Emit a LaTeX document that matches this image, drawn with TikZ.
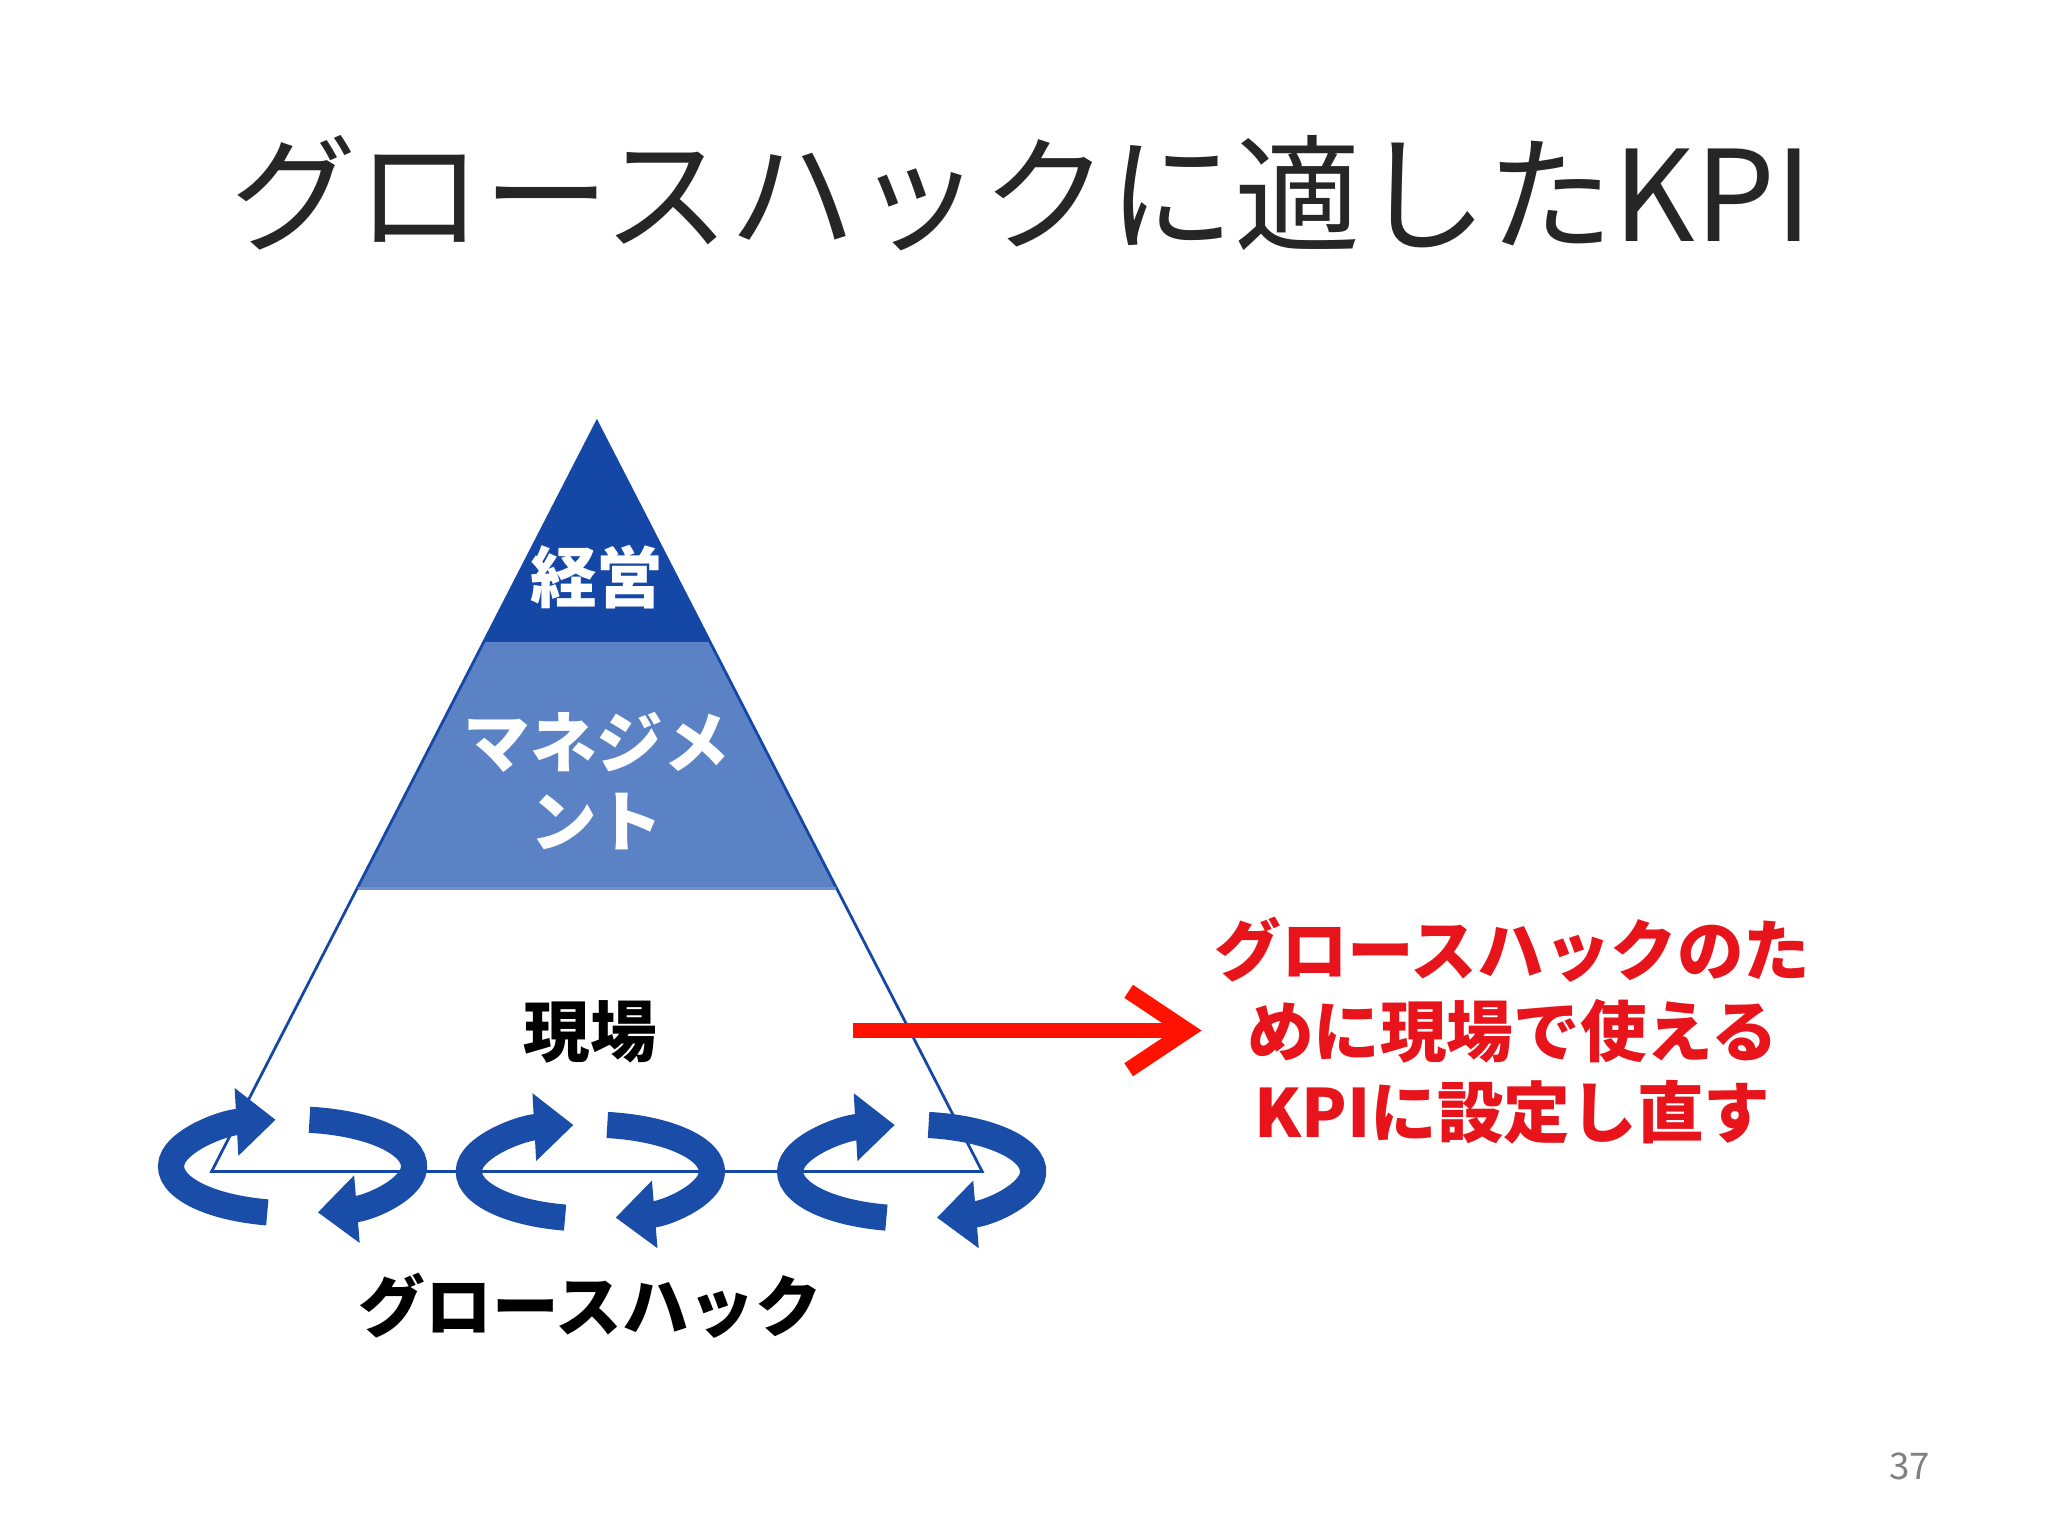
\documentclass[tikz,border=0pt]{standalone}
\usepackage{fontspec}
\setmainfont{Noto Sans CJK JP}
\usetikzlibrary{arrows.meta}
\definecolor{dk}{HTML}{1447A6}
\definecolor{md}{HTML}{5B82C5}
\definecolor{rd}{HTML}{E8141B}
\definecolor{ring}{HTML}{1A4DA8}
\tikzset{
 ringseg/.style={draw=ring,line width=0.2cm,-{Triangle[width=0.5cm,length=0.3cm]}},
 wlab/.style={text=white,font=\fontsize{14.5}{17}\selectfont\bfseries,align=center},
 blab/.style={text=black,font=\fontsize{14.5}{17}\selectfont\bfseries},
}
\begin{document}
\begin{tikzpicture}[x=0.01cm,y=-0.01cm]
\useasboundingbox[fill=white] (0,0) rectangle (1568,1176);
\node[text=black!85] (title) at (782,148) {\fontsize{27.5}{30}\selectfont グロースハックに適したKPI};
% pyramid
\fill[dk] (457,323) -- (544,492) -- (370,492) -- cycle;
\fill[md] (370,492) -- (544,492) -- (640,680) -- (274,680) -- cycle;
\draw[dk,line width=0.6pt] (457,323) -- (752,897) -- (162,897) -- cycle;
\draw[dk!60,line width=0.6pt] (274,680) -- (640,680);
\node[wlab] (k) at (457,442) {経営};
\node[wlab] (m) at (457,598) {マネジメ\\ント};
\node[blab] (g) at (452,790) {現場};
% rings
\foreach \cx/\cy [count=\i] in {224/893,452/897,698/897}{
 \coordinate (c\i) at (\cx,\cy);
 \draw[ringseg] (c\i) ++(258:0.93cm and 0.36cm) arc[start angle=258,end angle=98,x radius=0.93cm,y radius=0.36cm];
 \draw[ringseg] (c\i) ++(82:0.93cm and 0.36cm) arc[start angle=82,end angle=-78,x radius=0.93cm,y radius=0.36cm];
}
\node[blab] (gh) at (452,1000) {グロースハック};
% red arrow
\coordinate (a1) at (653,789);
\coordinate (a2) at (920,789);
\draw[red!85!orange,line width=0.12cm,-{Straight Barb[length=0.45cm,width=0.6cm,line width=0.12cm]}] (a1) -- (a2);
\node[text=rd,font=\fontsize{14.5}{17.6}\selectfont\bfseries,align=center] (rt) at (1158,789) {グロースハックのた\\めに現場で使える\\KPIに設定し直す};
\node[text=gray,font=\fontsize{8}{10}\selectfont] (pg) at (1462,1123) {37};
\end{tikzpicture}
\end{document}
